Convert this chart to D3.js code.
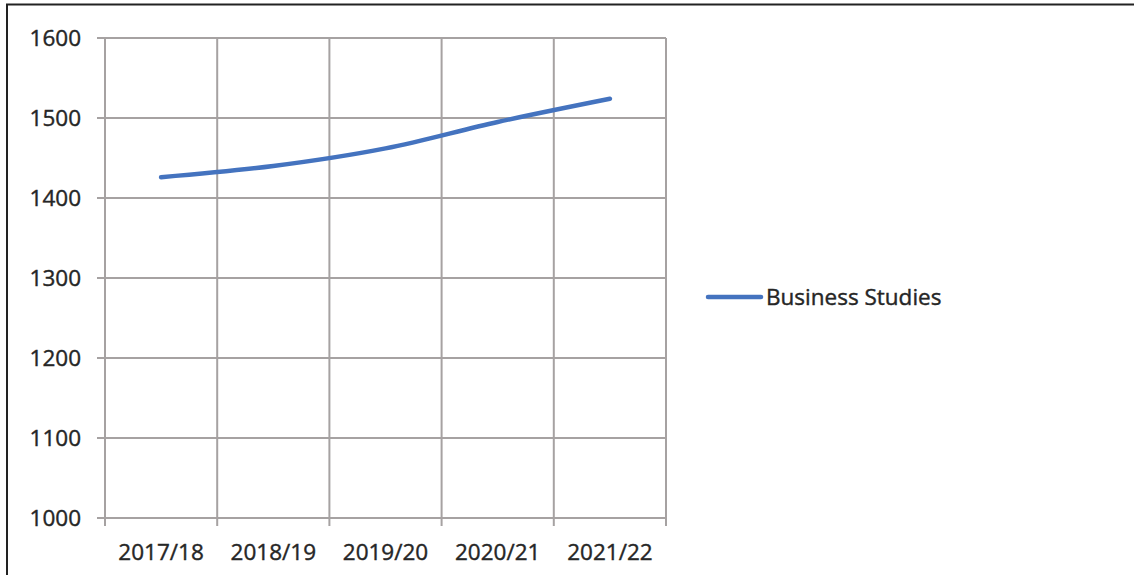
<!DOCTYPE html>
<html>
<head>
<meta charset="utf-8">
<script src="https://cdn.jsdelivr.net/npm/d3@7"></script>
<style>
  body { margin: 0; background: #fff; }
  text { font-family: "Open Sans", sans-serif; fill: #262626; stroke: #262626; stroke-width: 0.4px; }
</style>
</head>
<body>
<script>
// chart data
var years = ["2017/18", "2018/19", "2019/20", "2020/21", "2021/22"];
var students = [1426, 1440, 1462, 1495, 1524];
var yTicks = [1000, 1100, 1200, 1300, 1400, 1500, 1600];
var seriesName = "Business Studies";

var W = 1134, H = 575;
var plotL = 105, plotR = 666, plotT = 38, plotB = 518;

var svg = d3.select("body").append("svg")
	.attr("width", W)
	.attr("height", H);

// outer frame (top and left edges only)
svg.append("path")
	.attr("d", "M7,575 V4.5 H1134")
	.attr("fill", "none")
	.attr("stroke", "#222")
	.attr("stroke-width", 2);

var x = d3.scaleBand().domain(years).range([plotL, plotR]);
var y = d3.scaleLinear().domain([1000, 1600]).range([plotB, plotT]);

// horizontal gridlines
svg.append("g").selectAll("line")
	.data(yTicks)
	.enter().append("line")
	.attr("x1", plotL - 8)
	.attr("x2", plotR)
	.attr("y1", function (d) {return y(d);})
	.attr("y2", function (d) {return y(d);})
	.attr("stroke", "#a6a2a2")
	.attr("stroke-width", 2);

// vertical gridlines at category boundaries
var bounds = years.map(function (d) {return x(d);}).concat([plotR]);
svg.append("g").selectAll("line")
	.data(bounds)
	.enter().append("line")
	.attr("x1", function (d) {return d;})
	.attr("x2", function (d) {return d;})
	.attr("y1", plotT)
	.attr("y2", plotB + 8)
	.attr("stroke", "#a6a2a2")
	.attr("stroke-width", 2);

// y labels
svg.append("g").selectAll("text")
	.data(yTicks)
	.enter().append("text")
	.attr("x", 81)
	.attr("y", function (d) {return y(d);})
	.attr("dy", "0.36em")
	.attr("text-anchor", "end")
	.style("font-size", "22.5px")
	.text(function (d) {return d;});

// x labels
svg.append("g").selectAll("text")
	.data(years)
	.enter().append("text")
	.attr("x", function (d) {return x(d) + x.bandwidth() / 2;})
	.attr("y", 560)
	.attr("text-anchor", "middle")
	.style("font-size", "22.5px")
	.text(function (d) {return d;});

// the line
var line = d3.line()
	.x(function (d, i) {return x(years[i]) + x.bandwidth() / 2;})
	.y(function (d) {return y(d);})
	.curve(d3.curveCatmullRom);

svg.append("path")
	.datum(students)
	.attr("d", line)
	.attr("fill", "none")
	.attr("stroke", "#4473bf")
	.attr("stroke-width", 4.5)
	.attr("stroke-linecap", "round");

// legend
svg.append("line")
	.attr("x1", 708)
	.attr("x2", 761)
	.attr("y1", 297)
	.attr("y2", 297)
	.attr("stroke", "#4473bf")
	.attr("stroke-width", 4.5)
	.attr("stroke-linecap", "round");

svg.append("text")
	.attr("x", 766)
	.attr("y", 297)
	.attr("dy", "0.36em")
	.style("font-size", "22.5px")
	.text(seriesName);
</script>
</body>
</html>
